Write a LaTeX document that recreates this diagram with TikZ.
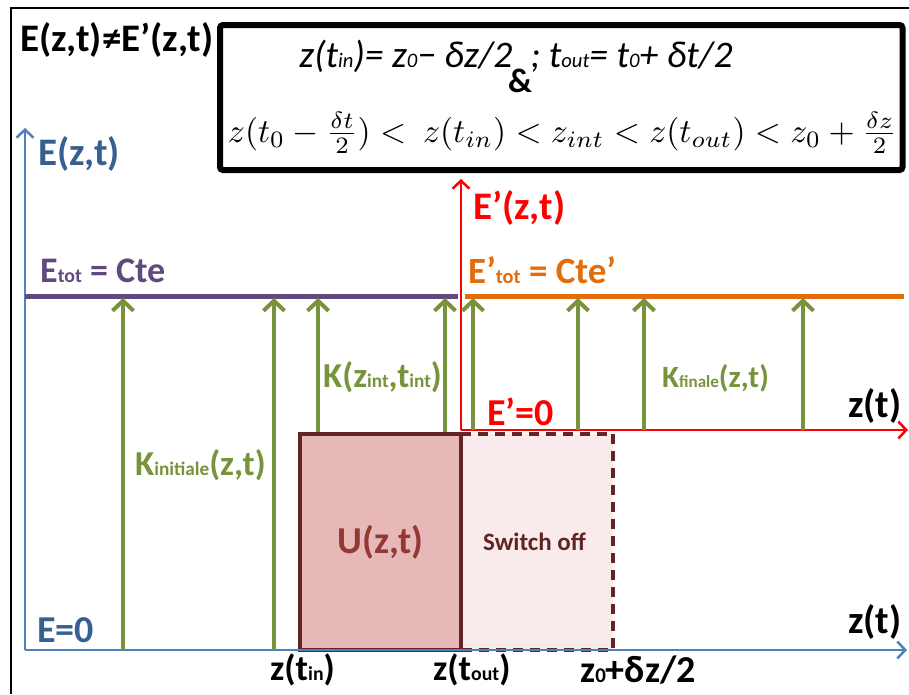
\documentclass[tikz,border=0pt]{standalone}
\usepackage{fontspec}
\setmainfont{Carlito}
\usetikzlibrary{arrows.meta}
\definecolor{axblue}{HTML}{4F81BD}
\definecolor{txblue}{HTML}{376092}
\definecolor{purp}{HTML}{604A7B}
\definecolor{oran}{HTML}{E46C0A}
\definecolor{grn}{HTML}{77933C}
\definecolor{dred}{HTML}{632523}
\definecolor{ufill}{HTML}{E6B9B8}
\definecolor{utext}{HTML}{953735}
\definecolor{sfill}{HTML}{F9EBEB}
\makeatletter
\newcommand\lo[1]{{\fontsize{\the\dimexpr\f@size pt*55/100\relax}{0pt}\selectfont#1}}
\makeatother
\begin{document}
\begin{tikzpicture}[x=1pt,y=-1pt,
  lbl/.style={inner sep=0pt,anchor=base west,font=\bfseries\fontsize{#1}{#1}\selectfont},
  blueax/.style={draw=axblue,line width=2.5pt,-{Straight Barb[length=8pt,width=17pt]}},
  redax/.style={draw=red,line width=2.5pt,-{Straight Barb[length=8pt,width=17pt]}},
  karrow/.style={draw=grn,line width=4pt,-{Straight Barb[length=10pt,width=21pt]}},
  level/.style={line width=5pt}]
\useasboundingbox (0,0) rectangle (909,694);
% outer frame
\draw[line width=2pt] (11,694) -- (11,8) -- (909,8);
% formula box
\node[draw,line width=6pt,rounded corners=3pt,minimum width=682.5pt,minimum height=145pt,inner sep=0pt] (fbox) at (561.25,97.5) {};
\node[inner sep=0pt,anchor=base,font=\itshape\fontsize{37.5}{37.5}\selectfont] (eq1) at (516,67)
  {z(t\lo{in})= z\lo{0}\char"2212{} δz/2\hspace{0.25em} ; t\lo{out}= t\lo{0}+ δt/2};
\node[lbl=34,anchor=base] (amp) at (520,92) {\&};
\node[inner sep=0pt,anchor=base] (eq2) at (562.5,142)
  {\resizebox{669pt}{!}{$z(t_0-\frac{\delta t}{2})<\ z(t_{in})<z_{int}<z(t_{out})<z_0+\frac{\delta z}{2}$}};
% title
\node[lbl=39] (title) at (20,51) {E(z,t)≠E’(z,t)};
% switch-off box
\node[fill=sfill,inner sep=0pt,minimum width=152pt,minimum height=216pt] (sw) at (537,542) {};
\node[lbl=25,text=dred] (swt) at (483,550) {Switch off};
\draw[dred,line width=4pt,dash pattern=on 10pt off 7pt] (sw.north west) -- (sw.north east) -- (sw.south east) -- (sw.south west);
% U box
\node[draw=dred,fill=ufill,line width=4pt,inner sep=0pt,minimum width=161pt,minimum height=216pt,
  text=utext,font=\bfseries\fontsize{38}{38}\selectfont] (U) at (380.5,542) {U(z,t)};
% blue axes
\coordinate (O) at (25,650);
\coordinate (Oy) at (25,128);
\coordinate (Ox) at (907,650);
\draw[blueax] (O) -- (Oy);
\draw[blueax] (O) -- (Ox);
% red axes
\coordinate (R) at (461,430);
\coordinate (Ry) at (461,179);
\coordinate (Rx) at (908,430);
\draw[redax] (R) -- (Ry);
\draw[redax] (R) -- (Rx);
% energy levels
\coordinate (p1) at (25,296);
\coordinate (p2) at (458,296);
\coordinate (o1) at (465,296);
\coordinate (o2) at (904,296);
\draw[level,purp] (p1) -- (p2);
\draw[level,oran] (o1) -- (o2);
% kinetic arrows
\foreach \n/\x/\y in {a/123/650,b/274/650,c/318/432,d/445/432,e/473/430,f/578/430,g/644/430,h/803/430}{
  \coordinate (k\n0) at (\x,\y);
  \coordinate (k\n1) at (\x,298);
  \draw[karrow] (k\n0) -- (k\n1);
}
% labels
\node[lbl=39,text=txblue] (Elab) at (38,165) {E(z,t)};
\node[lbl=36,text=purp] (Etot) at (40,282) {E\lo{tot} = Cte};
\node[lbl=38,text=txblue] (E0) at (37,642) {E=0};
\node[lbl=35,text=grn] (Kini) at (135,475) {K\lo{initiale}(z,t)};
\node[lbl=35,text=grn] (Kint) at (323,387) {K(z\lo{int},t\lo{int})};
\node[lbl=39,text=red] (Eplab) at (473,219) {E’(z,t)};
\node[lbl=37,text=oran] (Eptot) at (468,283) {E’\lo{tot} = Cte’};
\node[lbl=31,text=grn] (Kfin) at (662,387) {K\lo{finale}(z,t)};
\node[lbl=38,text=red] (Ep0) at (487,425) {E’=0};
\node[lbl=39] (zt1) at (848,417) {z(t)};
\node[lbl=39] (zt2) at (848,633) {z(t)};
\node[lbl=36] (ztin) at (270,680) {z(t\lo{in})};
\node[lbl=36] (ztout) at (433,680) {z(t\lo{out})};
\node[lbl=38] (zdz) at (580,682) {z\lo{0}+δz/2};
\end{tikzpicture}
\end{document}
